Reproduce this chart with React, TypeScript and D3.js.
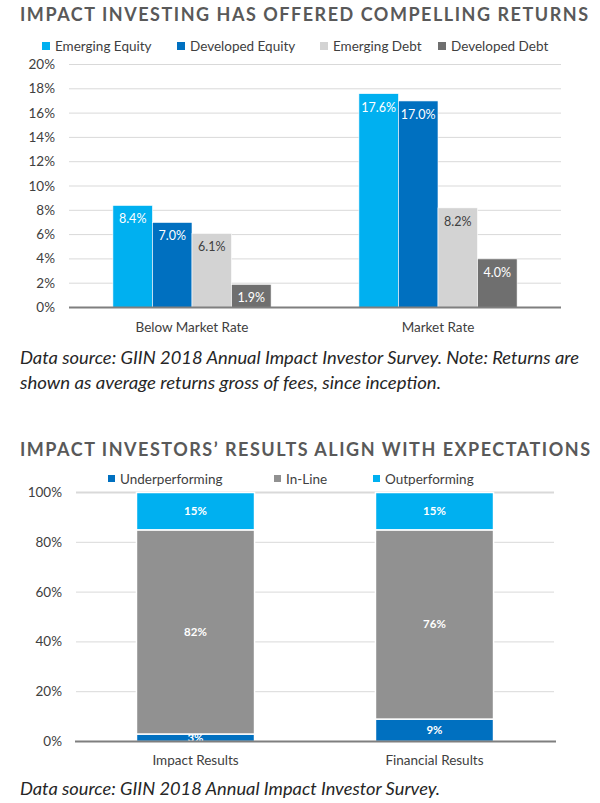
import React from "react";
import * as d3 from "d3";

const returnCategories = ["Below Market Rate", "Market Rate"];
const returnSeries = ["Emerging Equity", "Developed Equity", "Emerging Debt", "Developed Debt"];
const emergingEquity = [8.4, 17.6];
const developedEquity = [7.0, 17.0];
const emergingDebt = [6.1, 8.2];
const developedDebt = [1.9, 4.0];
const returnTicks = [0, 2, 4, 6, 8, 10, 12, 14, 16, 18, 20];

const resultCategories = ["Impact Results", "Financial Results"];
const resultSeries = ["Underperforming", "In-Line", "Outperforming"];
const underperforming = [3, 9];
const inLine = [82, 76];
const outperforming = [15, 15];
const resultTicks = [0, 20, 40, 60, 80, 100];

const FONT = "Lato, 'Open Sans', sans-serif";
const returnColors = ["#00B0F0", "#0070C0", "#D3D3D3", "#6F6F6F"];
const returnLabelColors = ["#FFFFFF", "#FFFFFF", "#404040", "#FFFFFF"];
const resultColors = ["#0070C0", "#919191", "#00B0F0"];

export default function App() {
  const W = 600, H = 803;

  // ---- Top chart ----
  const seriesValues = [emergingEquity, developedEquity, emergingDebt, developedDebt];
  const yTop = d3.scaleLinear().domain([0, 20]).range([307.5, 64.5]);
  const x0 = d3.scaleBand().domain(returnCategories).range([69, 561]);
  const x1 = d3.scaleBand().domain(returnSeries).range([0, x0.bandwidth()]).paddingOuter(1.11);

  // ---- Bottom chart ----
  const yBot = d3.scaleLinear().domain([0, 100]).range([741.5, 492.5]);
  const xb = d3.scaleBand().domain(resultCategories).range([76, 554]).paddingInner(0.506).paddingOuter(0.253);
  const rows = resultCategories.map((c, i) => ({
    cat: c,
    "Underperforming": underperforming[i],
    "In-Line": inLine[i],
    "Outperforming": outperforming[i],
  }));
  const stacked = d3.stack<any>().keys(resultSeries)(rows);

  const topLegendX = [42, 177, 320, 438];
  const botLegendX = [108, 274, 373];

  return (
    <svg width={W} height={H} style={{ display: "block", position: "absolute", left: 0, top: 0 }} fontFamily={FONT}>
      <rect width={W} height={H} fill="#fff" />
      {/* Title 1 */}
      <text x={20} y={21} fontSize={18} fontWeight={700} fill="#595959"
        textLength={568} lengthAdjust="spacing">IMPACT INVESTING HAS OFFERED COMPELLING RETURNS</text>
      {/* Legend 1 */}
      {returnSeries.map((s, i) => (
        <g key={s}>
          <rect x={topLegendX[i]} y={42} width={8} height={8} fill={returnColors[i]} />
          <text x={topLegendX[i] + 13} y={51} fontSize={13.5} fill="#404040">{s}</text>
        </g>
      ))}
      {/* Gridlines 1 */}
      {returnTicks.map(t => (
        <g key={t}>
          {t > 0 && <line x1={69} x2={561} y1={yTop(t)} y2={yTop(t)} stroke="#D9D9D9" strokeWidth={1} />}
          <text x={55} y={yTop(t) + 4.5} fontSize={13.5} textAnchor="end" fill="#404040">{t}%</text>
        </g>
      ))}
      {/* Bars 1 */}
      {returnCategories.map((c, ci) => (
        <g key={c} transform={`translate(${x0(c)},0)`}>
          {returnSeries.map((s, si) => {
            const v = seriesValues[si][ci];
            const x = x1(s)!;
            return (
              <g key={s}>
                <rect x={x} y={yTop(v)} width={x1.bandwidth()} height={yTop(0) - yTop(v)}
                  fill={returnColors[si]} stroke="#fff" strokeWidth={0.6} />
                <text x={x + x1.bandwidth() / 2} y={yTop(v) + 18} fontSize={12.5} textAnchor="middle"
                  fill={returnLabelColors[si]}>{v.toFixed(1)}%</text>
              </g>
            );
          })}
          <text x={x0.bandwidth() / 2} y={332} fontSize={13.5} textAnchor="middle" fill="#404040">{c}</text>
        </g>
      ))}
      <line x1={69} x2={561} y1={yTop(0)} y2={yTop(0)} stroke="#7F7F7F" strokeWidth={2} />
      {/* Footnote 1 */}
      <text x={20} y={364} fontSize={16.5} fontStyle="italic" fill="#262626" textLength={559} lengthAdjust="spacingAndGlyphs">
        Data source: GIIN 2018 Annual Impact Investor Survey. Note: Returns are
      </text>
      <text x={20} y={389} fontSize={16.5} fontStyle="italic" fill="#262626" textLength={421} lengthAdjust="spacingAndGlyphs">
        shown as average returns gross of fees, since inception.
      </text>

      {/* Title 2 */}
      <text x={20} y={456} fontSize={18} fontWeight={700} fill="#595959"
        textLength={570} lengthAdjust="spacing">IMPACT INVESTORS’ RESULTS ALIGN WITH EXPECTATIONS</text>
      {/* Legend 2 */}
      {resultSeries.map((s, i) => (
        <g key={s}>
          <rect x={botLegendX[i]} y={475} width={7} height={7} fill={resultColors[i]} />
          <text x={botLegendX[i] + 12} y={484} fontSize={13.5} fill="#404040">{s}</text>
        </g>
      ))}
      {/* Gridlines 2 */}
      {resultTicks.map(t => (
        <g key={t}>
          {t > 0 && <line x1={76} x2={554} y1={yBot(t)} y2={yBot(t)} stroke="#D9D9D9" strokeWidth={t === 100 ? 2 : 1} />}
          <text x={62} y={yBot(t) + 4.5} fontSize={13.5} textAnchor="end" fill="#404040">{t}%</text>
        </g>
      ))}
      {/* Stacked bars 2 */}
      {stacked.map((layer, li) => (
        <g key={layer.key}>
          {layer.map((d, di) => {
            const c = resultCategories[di];
            const x = xb(c)!;
            const y0 = yBot(d[0]);
            const y1 = yBot(d[1]);
            return (
              <g key={c}>
                <rect x={x} y={y1} width={xb.bandwidth()} height={y0 - y1} fill={resultColors[li]}
                  stroke="#fff" strokeWidth={1.5} />
                <text x={x + xb.bandwidth() / 2} y={(y0 + y1) / 2 + 4} fontSize={11.5} fontWeight={700}
                  textAnchor="middle" fill="#fff">{d[1] - d[0]}%</text>
              </g>
            );
          })}
        </g>
      ))}
      <line x1={75} x2={556} y1={yBot(0)} y2={yBot(0)} stroke="#7F7F7F" strokeWidth={2} />
      {resultCategories.map(c => (
        <text key={c} x={xb(c)! + xb.bandwidth() / 2} y={765} fontSize={13.5} textAnchor="middle" fill="#404040">{c}</text>
      ))}
      {/* Footnote 2 */}
      <text x={20} y={795} fontSize={16.5} fontStyle="italic" fill="#262626" textLength={420} lengthAdjust="spacingAndGlyphs">
        Data source: GIIN 2018 Annual Impact Investor Survey.
      </text>
    </svg>
  );
}
